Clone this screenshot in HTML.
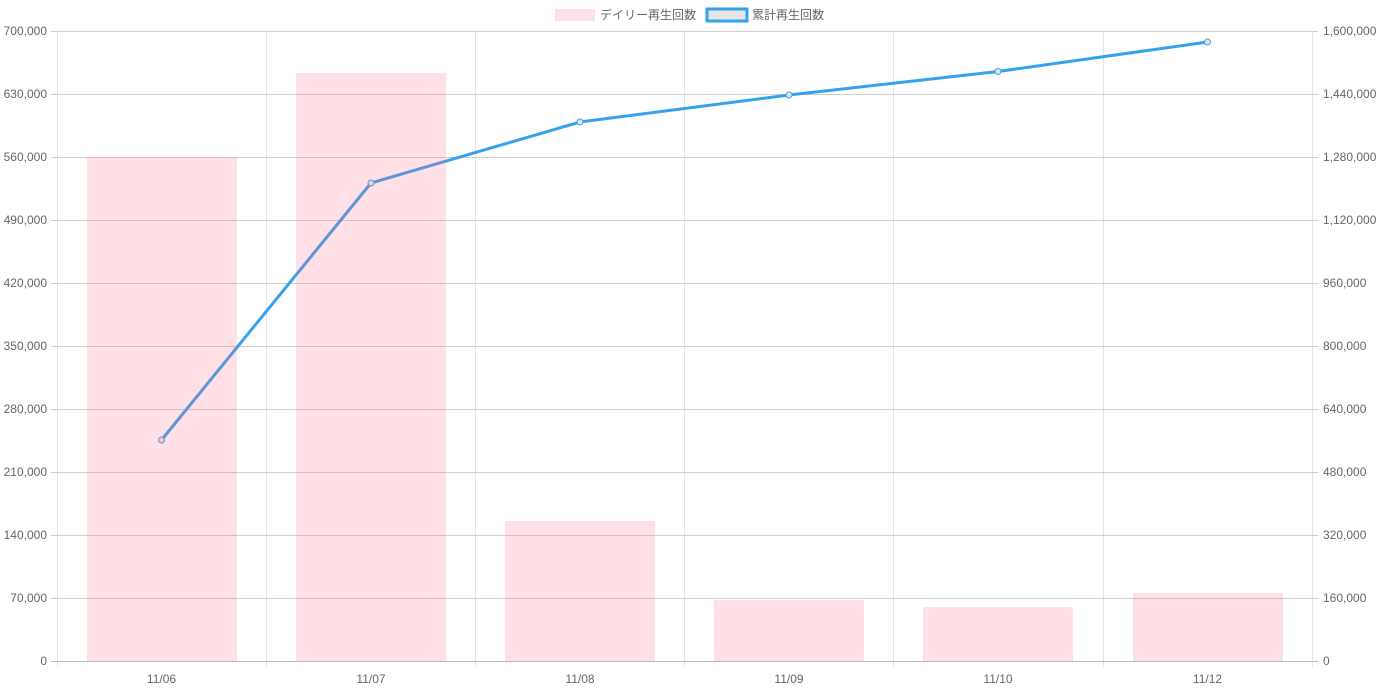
<!DOCTYPE html>
<html><head><meta charset="utf-8"><style>
html,body{margin:0;padding:0;background:#fff;}
svg{display:block;font-family:"Liberation Sans","Noto Sans CJK JP",sans-serif;}
</style></head><body>
<svg width="1380" height="690" viewBox="0 0 1380 690">
<g stroke="#e6e6e6" stroke-width="1">
<line x1="57.5" y1="31" x2="57.5" y2="667"/>
<line x1="266.5" y1="31" x2="266.5" y2="667"/>
<line x1="475.5" y1="31" x2="475.5" y2="667"/>
<line x1="684.5" y1="31" x2="684.5" y2="667"/>
<line x1="893.5" y1="31" x2="893.5" y2="667"/>
<line x1="1103.5" y1="31" x2="1103.5" y2="667"/>
<line x1="1312.5" y1="31" x2="1312.5" y2="667"/>
</g>
<g stroke="#cfcfcf" stroke-width="1">
<line x1="51" y1="31.5" x2="1318" y2="31.5"/>
<line x1="51" y1="94.5" x2="1318" y2="94.5"/>
<line x1="51" y1="157.5" x2="1318" y2="157.5"/>
<line x1="51" y1="220.5" x2="1318" y2="220.5"/>
<line x1="51" y1="283.5" x2="1318" y2="283.5"/>
<line x1="51" y1="346.5" x2="1318" y2="346.5"/>
<line x1="51" y1="409.5" x2="1318" y2="409.5"/>
<line x1="51" y1="472.5" x2="1318" y2="472.5"/>
<line x1="51" y1="535.5" x2="1318" y2="535.5"/>
<line x1="51" y1="598.5" x2="1318" y2="598.5"/>
<line x1="51" y1="661.5" x2="1318" y2="661.5" stroke="#bbb"/>
</g>
<polyline points="161.5,440 371,183 580,122 789,95 998,71.5 1207.5,42" fill="none" stroke="#36a2eb" stroke-width="3" stroke-linejoin="round"/>
<g fill="#e6e6e6" stroke="#36a2eb" stroke-width="1">
<circle cx="161.5" cy="440" r="3"/><circle cx="371" cy="183" r="3"/><circle cx="580" cy="122" r="3"/>
<circle cx="789" cy="95" r="3"/><circle cx="998" cy="71.5" r="3"/><circle cx="1207.5" cy="42" r="3"/>
</g>
<g fill="rgba(255,99,132,0.2)">
<rect x="87" y="157" width="150" height="504"/>
<rect x="296" y="73" width="150" height="588"/>
<rect x="505" y="521" width="150" height="140"/>
<rect x="714" y="600" width="150" height="61"/>
<rect x="923" y="607" width="150" height="54"/>
<rect x="1133" y="593" width="150" height="68"/>
</g>
<g font-size="12" fill="#666" text-anchor="end">
<text x="47" y="35">700,000</text><text x="47" y="98">630,000</text><text x="47" y="161">560,000</text>
<text x="47" y="224">490,000</text><text x="47" y="287">420,000</text><text x="47" y="350">350,000</text>
<text x="47" y="413">280,000</text><text x="47" y="476">210,000</text><text x="47" y="539">140,000</text>
<text x="47" y="602">70,000</text><text x="47" y="665">0</text>
</g>
<g font-size="12" fill="#666" text-anchor="start">
<text x="1323" y="35">1,600,000</text><text x="1323" y="98">1,440,000</text><text x="1323" y="161">1,280,000</text>
<text x="1323" y="224">1,120,000</text><text x="1323" y="287">960,000</text><text x="1323" y="350">800,000</text>
<text x="1323" y="413">640,000</text><text x="1323" y="476">480,000</text><text x="1323" y="539">320,000</text>
<text x="1323" y="602">160,000</text><text x="1323" y="665">0</text>
</g>
<g font-size="12" fill="#666" text-anchor="middle">
<text x="161.5" y="683">11/06</text><text x="371" y="683">11/07</text><text x="580" y="683">11/08</text>
<text x="789" y="683">11/09</text><text x="998" y="683">11/10</text><text x="1207.5" y="683">11/12</text>
</g>
<rect x="555" y="9" width="40" height="12" fill="rgba(255,99,132,0.2)"/>
<text x="600" y="19" font-size="12" fill="#666">デイリー再生回数</text>
<rect x="707" y="9" width="40" height="12" fill="#e6e6e6" stroke="#36a2eb" stroke-width="3"/>
<text x="752" y="19" font-size="12" fill="#666">累計再生回数</text>
</svg>
</body></html>
